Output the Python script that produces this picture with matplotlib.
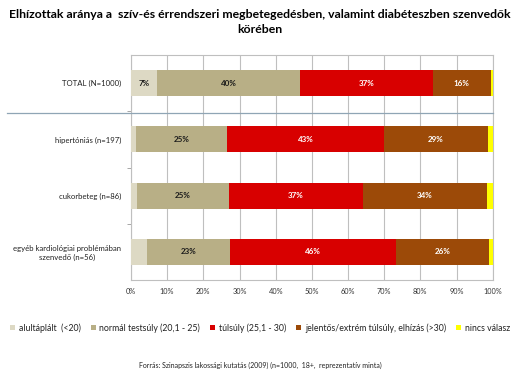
import matplotlib
matplotlib.use("Agg")
import matplotlib.pyplot as plt
from matplotlib.patches import Patch
from matplotlib.lines import Line2D
import numpy as np

plt.rcParams['font.family'] = ['Lato', 'DejaVu Sans']

categories = ["TOTAL (N=1000)", "hipertóniás (n=197)", "cukorbeteg (n=86)",
              "egyéb kardiológiai problémában\nszenvedő (n=56)"]
series_names = ["alultáplált  (<20)", "normál testsúly (20,1 - 25)", "túlsúly (25,1 - 30)",
                "jelentős/extrém túlsúly, elhízás (>30)", "nincs válasz"]
alultaplalt = [7.2, 1.3, 1.7, 4.3]
normal = [39.6, 25.2, 25.3, 23.2]
tulsuly = [36.6, 43.4, 37.1, 45.7]
jelentos = [16.1, 28.9, 34.4, 25.8]
nincs = [0.5, 1.2, 1.5, 1.0]
xticks = [0, 10, 20, 30, 40, 50, 60, 70, 80, 90, 100]
xticklabels = [f"{t}%" for t in xticks]
title = "Elhízottak aránya a  szív-és érrendszeri megbetegedésben, valamint diabéteszben szenvedők\nkörében"
source = "Forrás: Szinapszis lakossági kutatás (2009) (n=1000,  18+,  reprezentatív minta)"

colors = ["#DDD9C4", "#B8AF86", "#D80000", "#9C4A08", "#FFFF00"]
text_colors = ["#1a1a1a", "#1a1a1a", "white", "white", "#1a1a1a"]
series = [alultaplalt, normal, tulsuly, jelentos, nincs]

fig = plt.figure(figsize=(5.2, 3.77), dpi=100)
ax = fig.add_axes([131/520, 1-280/377, (492.7-131)/520, 225/377])

y = np.arange(len(categories))
left = np.zeros(len(categories))
for vals, c, tc in zip(series, colors, text_colors):
    vals = np.array(vals)
    ax.barh(y, vals, left=left, height=0.46, color=c, zorder=3)
    for yi, l, v in zip(y, left, vals):
        if v >= 5 and (v >= 10 or yi == 0):
            ax.text(l + v/2, yi, f"{round(v)}%", ha='center', va='center',
                    fontsize=5.8, fontweight='bold', color=tc, zorder=4)
    left += vals

ax.set_xlim(0, 100)
ax.set_ylim(len(categories)-0.5, -0.5)
ax.set_xticks(xticks)
ax.set_xticklabels(xticklabels, fontsize=5.3, color="#333333")
ax.set_yticks(y)
ax.set_yticklabels(categories, fontsize=5.6, color="#222222", multialignment='center')
ax.tick_params(axis='y', length=0, pad=7)
ax.tick_params(axis='x', length=0, pad=6)
ax.set_yticks([0.5, 1.5, 2.5], minor=True)
ax.tick_params(axis='y', which='minor', length=3, color="#999999", direction='out')
ax.xaxis.grid(True, color="#BFBFBF", linewidth=0.8, zorder=0)
for s in ax.spines.values():
    s.set_color("#BFBFBF")
    s.set_linewidth(0.8)

fig.add_artist(Line2D([7/520, 492.7/520], [1-113/377, 1-113/377], color="#8FA5B5", linewidth=0.9))

fig.text(0.5, 1-22/377, title, ha='center', va='center', fontsize=8.8, fontweight='bold',
         linespacing=1.35)

handles = [Patch(facecolor=c, edgecolor='none') for c in colors]
fig.legend(handles, series_names, loc='center', bbox_to_anchor=(0.5, 1-328/377), ncol=5,
           frameon=False, fontsize=6.3, handlelength=0.6, handleheight=0.6, handletextpad=0.4,
           columnspacing=1.15, labelcolor="#222222")

fig.text(0.5, 1-365/377, source, ha='center', va='center', fontsize=5.0, color="#222222")

fig.savefig("out.png", dpi=100)
